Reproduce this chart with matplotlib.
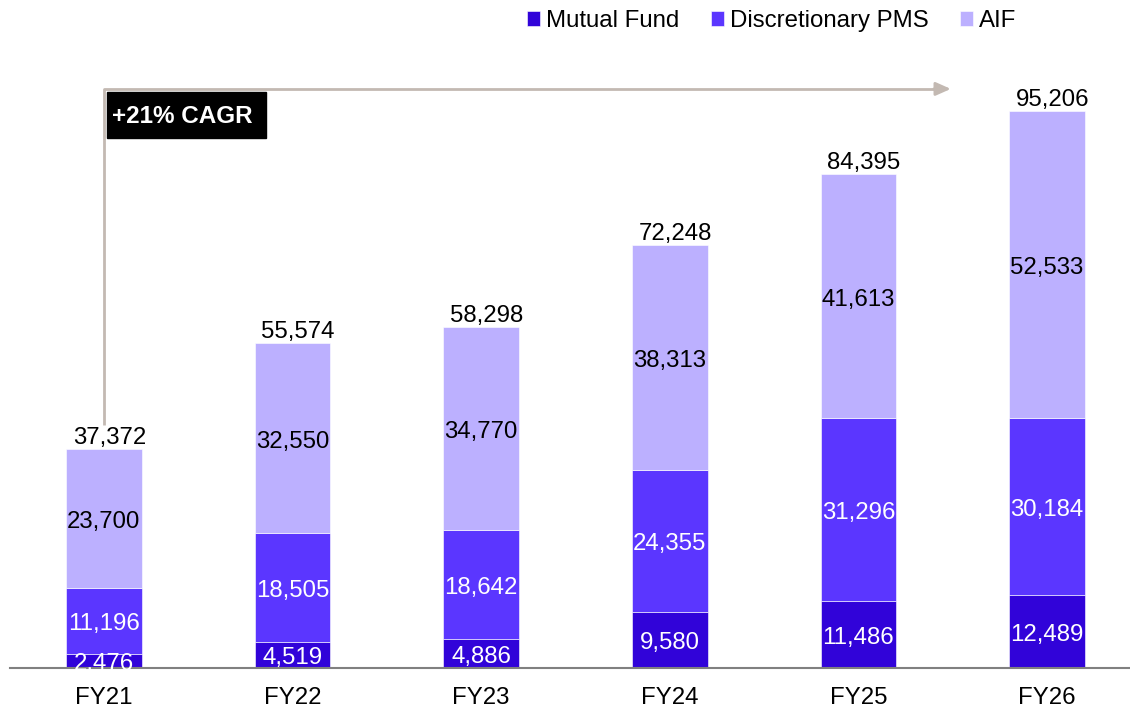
import numpy as np
import matplotlib
matplotlib.use("Agg")
import matplotlib.pyplot as plt
from matplotlib.patches import Rectangle

plt.rcParams['font.family'] = ['Liberation Sans', 'DejaVu Sans']

# data
years = ["FY21", "FY22", "FY23", "FY24", "FY25", "FY26"]
mutual_fund = [2476, 4519, 4886, 9580, 11486, 12489]
disc_pms = [11196, 18505, 18642, 24355, 31296, 30184]
aif = [23700, 32550, 34770, 38313, 41613, 52533]
series_names = ["Mutual Fund", "Discretionary PMS", "AIF"]
cagr_text = "+21% CAGR"

colors = ["#3103D9", "#5B36FF", "#BCB0FF"]
label_colors = ["white", "white", "black"]

fig = plt.figure(figsize=(11.3, 7.1), dpi=100)
ax = fig.add_axes([10 / 1130, 42 / 710, 1 - 10 / 1130, 1 - 42 / 710])

x = np.arange(len(years))
width = 0.4
bottom = np.zeros(len(years))
handles = []
for vals, col, lc, name in zip([mutual_fund, disc_pms, aif], colors, label_colors, series_names):
    vals = np.array(vals)
    bars = ax.bar(x, vals, width, bottom=bottom, color=col, edgecolor="white",
                  linewidth=0.4, label=name)
    handles.append(bars)
    for xi, b, v in zip(x, bottom, vals):
        ax.annotate(f"{v:,}", (xi, b + v / 2), xytext=(0, -2.5), textcoords="offset points",
                    ha="center", va="center", fontsize=17.3, color=lc,
                    annotation_clip=False).set_clip_on(True)
    bottom = bottom + vals

# totals on top
for xi, t in zip(x, bottom):
    ax.annotate(f"{int(t):,}", (xi, t), xytext=(4, 0), textcoords="offset points",
                ha="center", va="bottom", fontsize=17.3, color="black")

# CAGR arrow
arrow_col = "#C3B9B2"
y_top = 99000
ax.plot([0, 0, 4.42], [41500, y_top, y_top], color=arrow_col, lw=2, solid_capstyle="butt")
ax.annotate("", xy=(4.49, y_top), xytext=(4.40, y_top),
            arrowprops=dict(arrowstyle="-|>,head_length=0.9,head_width=0.4",
                            color=arrow_col, lw=2, shrinkA=0, shrinkB=0))
ax.add_patch(Rectangle((0.016, 90600), 0.843, 7900, color="black", zorder=3))
ax.text(0.045, 94300, cagr_text, ha="left", va="center", fontsize=17.5,
        fontweight="bold", color="white", zorder=4)

ax.set_xlim(-0.498, 5.44)
ax.set_ylim(0, 114200)
ax.set_xticks(x)
ax.set_xticklabels(years, fontsize=17.3)
ax.tick_params(axis="x", length=0, pad=13.5)
ax.set_yticks([])
for s in ["top", "right", "left"]:
    ax.spines[s].set_visible(False)
ax.spines["bottom"].set_color("#808080")
ax.spines["bottom"].set_linewidth(1.5)

fig.legend(handles=handles, labels=series_names, loc="center",
           bbox_to_anchor=(772 / 1130, 1 - 21 / 710), ncol=3, frameon=False,
           fontsize=17.3, handlelength=0.55, handleheight=0.55, handletextpad=0.25,
           columnspacing=1.3, borderpad=0)

fig.savefig("out.png", dpi=100)
